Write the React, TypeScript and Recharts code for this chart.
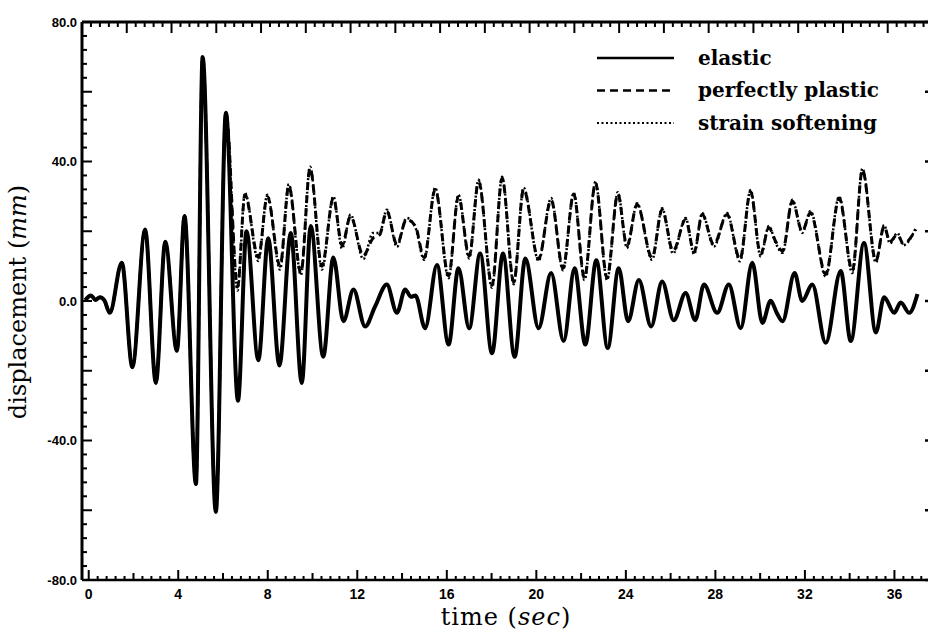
import React from 'react';
import { LineChart, Line, XAxis, YAxis, Label } from 'recharts';

// ---- data (time in sec, displacement in mm) ----
// common response before the inelastic models diverge
const earlyTime = [-0.15, 0.1, 0.3, 0.5, 0.7, 0.94, 1.48, 1.95, 2.52, 3.0, 3.42, 3.94, 4.28, 4.79, 5.09, 5.68, 6.13];
const earlyDisp = [0.3, 1.6, 0.3, 1.1, 0.2, -3.4, 11, -19, 20.5, -23.5, 17, -14.3, 24.4, -52.5, 70, -60.5, 54];

const elasticTime = [
  6.67, 7.05, 7.58, 8.02, 8.52, 9.03, 9.52, 9.92, 10.48, 10.93,
  11.38, 11.83, 12.35, 12.8, 13.32, 13.77, 14.14, 14.4, 14.6, 15.03,
  15.56, 16.08, 16.52, 17.0, 17.49, 18.02, 18.51, 19.03, 19.51, 20.1,
  20.66, 21.22, 21.71, 22.19, 22.68, 23.19, 23.68, 24.1, 24.58, 25.13,
  25.62, 26.14, 26.67, 27.1, 27.49, 28.08, 28.6, 29.13, 29.65, 30.1,
  30.47, 30.75, 31.0, 31.54, 31.88, 32.33, 32.93, 33.6, 34.05, 34.64,
  35.17, 35.54, 35.99, 36.28, 36.66, 37.03,
];
const elasticDisp = [
  -28.6, 20, -17, 18, -18.5, 19.5, -23.5, 21.5, -16, 12.5,
  -5.8, 3.3, -7.3, -1.5, 4.7, -3.4, 3.3, 1.2, 1.6, -7.8,
  10.3, -12.5, 9.4, -7.8, 13.6, -15, 13.6, -16, 12.2, -7.8,
  8, -11.5, 9.4, -12.5, 11.7, -13.5, 9.4, -5.8, 6, -7.3,
  5.6, -5.5, 2.3, -5.5, 4.7, -3.4, 4.7, -7.8, 11, -6.3,
  0.1, -3.5, -5.8, 8, 0, 4.7, -12, 8.6, -11.5, 16.6,
  -9, 1.1, -3.4, -0.4, -3.4, 2,
];

const plasticTime = [
  6.65, 6.98, 7.58, 7.98, 8.55, 8.94, 9.48, 9.89, 10.42, 10.93,
  11.32, 11.7, 12.27, 12.7, 13.0, 13.32, 13.77, 14.2, 14.6, 14.99,
  15.48, 16.08, 16.52, 17.0, 17.42, 18.02, 18.47, 18.99, 19.43, 20.1,
  20.66, 21.19, 21.67, 22.15, 22.64, 23.16, 23.64, 24.05, 24.5, 25.17,
  25.62, 26.11, 26.67, 27.05, 27.41, 27.93, 28.52, 29.1, 29.57, 30.02,
  30.39, 30.7, 31.0, 31.44, 31.88, 32.25, 32.93, 33.53, 34.12, 34.57,
  35.17, 35.54, 35.8, 36.13, 36.4, 36.96,
];
const plasticDisp = [
  4, 30.5, 12.5, 30, 10, 33, 8, 38, 10, 29.5,
  16, 24.3, 13, 18, 19, 25.7, 16.2, 23.4, 21.4, 12.4,
  32, 7.2, 30, 12.9, 34.3, 4.5, 35.2, 5.4, 32, 12,
  29, 9.4, 30.7, 6.6, 33.8, 6.6, 30.7, 15.8, 27.7, 12.4,
  26.2, 14.3, 23.4, 14, 24.8, 16.2, 24.8, 12, 31.4, 13.4,
  21, 17, 14.3, 28.6, 20, 25.3, 7.7, 29.5, 8.6, 37.6,
  11.5, 21.4, 17, 19, 16.5, 20.5,
];

const softeningTime = plasticTime;
const softeningDisp = [
  3, 31, 11.5, 30.5, 9, 33.5, 7.5, 38.5, 9, 30,
  15, 24.8, 12, 19.5, 19.5, 26.2, 15.5, 23.8, 21, 11.8,
  32.5, 6.5, 30.5, 12.2, 34.8, 3.8, 35.6, 4.8, 32.5, 11.5,
  29.5, 8.8, 31, 6, 34.2, 6, 31.2, 15.2, 28, 11.8,
  26.6, 13.6, 23.8, 13.4, 25.2, 15.6, 25.2, 11.4, 31.8, 12.8,
  21.5, 16.5, 13.8, 29, 19.5, 25.8, 7, 30, 8, 38,
  11, 21.8, 16.5, 19.5, 16, 21,
];

const seriesNames = ['elastic', 'perfectly plastic', 'strain softening'];
const xLabelTicks = [0, 4, 8, 12, 16, 20, 24, 28, 32, 36];
const yLabelTicks = [80, 40, 0, -40, -80];

// ---- build tables ----
const toRows = (ts: number[], vs: number[]) => ts.map((t, i) => ({ t, v: vs[i] }));
const elasticData = toRows(earlyTime.concat(elasticTime), earlyDisp.concat(elasticDisp));
const plasticData = toRows(earlyTime.concat(plasticTime), earlyDisp.concat(plasticDisp));
const softeningData = toRows(earlyTime.concat(softeningTime), earlyDisp.concat(softeningDisp));

const CHART_W = 930;
const CHART_H = 634;
const MARGIN = { top: 20, right: 0, bottom: 0, left: 0 };
const TOP_AXIS_H = 2;
const LEFT_AXIS_W = 82;
const RIGHT_AXIS_W = 2;
const PLOT_LEFT = MARGIN.left + LEFT_AXIS_W;
const PLOT_RIGHT = CHART_W - MARGIN.right - RIGHT_AXIS_W;
const PLOT_TOP = MARGIN.top + TOP_AXIS_H;

const X_DOMAIN: [number, number] = [-0.3, 37.5];
const Y_DOMAIN: [number, number] = [-80, 80];
const TOP_SPAN = X_DOMAIN[1] - X_DOMAIN[0]; // the top scale is counted from the left frame edge

const stepTicks = (from: number, to: number, step: number) => {
  const out: number[] = [];
  for (let k = Math.round(from / step); k * step <= to + 1e-9; k++) out.push(Math.round(k * step * 100) / 100);
  return out;
};
const bottomTicks = stepTicks(0, 37.2, 0.4);
const topTicks = stepTicks(0, 37.6, 0.4);
const leftTicks = stepTicks(-80, 80, 4);
const rightTicks = stepTicks(-80, 80, 20);

const INK = '#000';
const tickFont = '"Liberation Sans", Arial, sans-serif';
const serif = '"DejaVu Serif", "Liberation Serif", serif';

const BottomTick = (props: any) => {
  const { x, y, payload } = props;
  const value = payload.value as number;
  const k = Math.round(value * 10);
  const major = k % 40 === 0;
  const mid = k % 20 === 0;
  const len = major ? 10 : mid ? 7 : 4;
  return (
    <g>
      <line x1={x} x2={x} y1={y} y2={y - len} stroke={INK} strokeWidth={2} />
      {major && xLabelTicks.includes(value) && (
        <text x={x} y={y + 19} textAnchor="middle" fontFamily={tickFont} fontWeight="bold" fontSize={14} fill={INK}>
          {value}
        </text>
      )}
    </g>
  );
};

const LeftTick = (props: any) => {
  const { x, y, payload } = props;
  const v = payload.value;
  const len = v % 20 === 0 ? 10 : 5;
  return (
    <g>
      <line x1={x} x2={x + len} y1={y} y2={y} stroke={INK} strokeWidth={2} />
      {yLabelTicks.includes(v) && (
        <text x={x - 5} y={y} dy="0.36em" textAnchor="end" fontFamily={tickFont} fontWeight="bold" fontSize={13} fill={INK}>
          {v.toFixed(1)}
        </text>
      )}
    </g>
  );
};

const RightTick = (props: any) => {
  const { x, y } = props;
  return <line x1={x} x2={x - 3} y1={y} y2={y} stroke={INK} strokeWidth={2.5} />;
};

const TimeLabel = (props: any) => {
  const vb = props.viewBox || { x: 82, width: 846, y: 580 };
  return (
    <text x={vb.x + vb.width / 2 + 1} y={625} textAnchor="middle" fontFamily={serif} fontSize={24} letterSpacing={1} fill={INK}>
      time (<tspan fontStyle="italic">sec</tspan>)
    </text>
  );
};

const DispLabel = () => {
  const cx = 26;
  const cy = 302;
  return (
    <text x={cx} y={cy} transform={`rotate(-90 ${cx} ${cy})`} textAnchor="middle" fontFamily={serif} fontSize={24} fill={INK}>
      displacement (<tspan fontStyle="italic">mm</tspan>)
    </text>
  );
};

// tick marks of the upper frame edge (scale runs from the left frame edge)
const TopFrameTicks = () => (
  <svg width={CHART_W} height={40} style={{ position: 'absolute', left: 0, top: 0, pointerEvents: 'none' }}>
    {topTicks.map((u) => {
      const x = PLOT_LEFT + (u / TOP_SPAN) * (PLOT_RIGHT - PLOT_LEFT);
      const k = Math.round(u * 10);
      const len = k % 20 === 0 ? 11 : 5;
      return <line key={u} x1={x} x2={x} y1={PLOT_TOP} y2={PLOT_TOP + len} stroke={INK} strokeWidth={2} />;
    })}
  </svg>
);

const styles = [
  { dash: undefined as string | undefined, width: 2.5 },
  { dash: '8 5', width: 2.5 },
  { dash: '2 2.5', width: 2 },
];

const LegendBox = () => (
  <svg width={330} height={110} style={{ position: 'absolute', left: 592, top: 40, display: 'block' }}>
    {seriesNames.map((name, i) => {
      const y = 18 + i * 32.5;
      return (
        <g key={name}>
          <line x1={5} x2={82} y1={y} y2={y} stroke={INK} strokeWidth={styles[i].width} strokeDasharray={styles[i].dash} />
          <text x={106} y={y} dy="0.33em" fontFamily={serif} fontWeight="bold" fontSize={20} fill={INK}>
            {name}
          </text>
        </g>
      );
    })}
  </svg>
);

export default function App() {
  return (
    <div style={{ position: 'absolute', left: 0, top: 0, width: CHART_W, height: CHART_H, background: '#fff' }}>
      <LineChart width={CHART_W} height={CHART_H} margin={MARGIN}>
        <XAxis
          xAxisId="b"
          type="number"
          dataKey="t"
          domain={X_DOMAIN}
          allowDataOverflow
          ticks={bottomTicks}
          interval={0}
          tick={<BottomTick />}
          tickLine={false}
          tickSize={0}
          tickMargin={0}
          axisLine={{ stroke: INK, strokeWidth: 2.5 }}
          height={54}
        >
          <Label content={<TimeLabel />} />
        </XAxis>
        <XAxis
          xAxisId="top"
          orientation="top"
          type="number"
          dataKey="t"
          domain={X_DOMAIN}
          allowDataOverflow
          tick={false}
          tickLine={false}
          axisLine={{ stroke: INK, strokeWidth: 3 }}
          height={TOP_AXIS_H}
        />
        <YAxis
          yAxisId="l"
          type="number"
          domain={Y_DOMAIN}
          allowDataOverflow
          ticks={leftTicks}
          interval={0}
          tick={<LeftTick />}
          tickLine={false}
          tickSize={0}
          tickMargin={0}
          axisLine={{ stroke: INK, strokeWidth: 3 }}
          width={LEFT_AXIS_W}
        >
          <Label content={<DispLabel />} />
        </YAxis>
        <YAxis
          yAxisId="r"
          orientation="right"
          type="number"
          domain={Y_DOMAIN}
          allowDataOverflow
          ticks={rightTicks}
          interval={0}
          tick={<RightTick />}
          tickLine={false}
          tickSize={0}
          tickMargin={0}
          axisLine={false}
          width={RIGHT_AXIS_W}
        />
        <Line
          xAxisId="top"
          yAxisId="r"
          name={seriesNames[2]}
          data={softeningData}
          dataKey="v"
          type="monotone"
          stroke={INK}
          strokeWidth={2.5}
          strokeDasharray="2 2.5"
          dot={false}
          activeDot={false}
          isAnimationActive={false}
        />
        <Line
          xAxisId="b"
          yAxisId="l"
          name={seriesNames[1]}
          data={plasticData}
          dataKey="v"
          type="monotone"
          stroke={INK}
          strokeWidth={3}
          strokeDasharray="8 5"
          dot={false}
          activeDot={false}
          isAnimationActive={false}
        />
        <Line
          xAxisId="b"
          yAxisId="l"
          name={seriesNames[0]}
          data={elasticData}
          dataKey="v"
          type="monotone"
          stroke={INK}
          strokeWidth={4}
          dot={false}
          activeDot={false}
          isAnimationActive={false}
        />
      </LineChart>
      <TopFrameTicks />
      <LegendBox />
    </div>
  );
}
